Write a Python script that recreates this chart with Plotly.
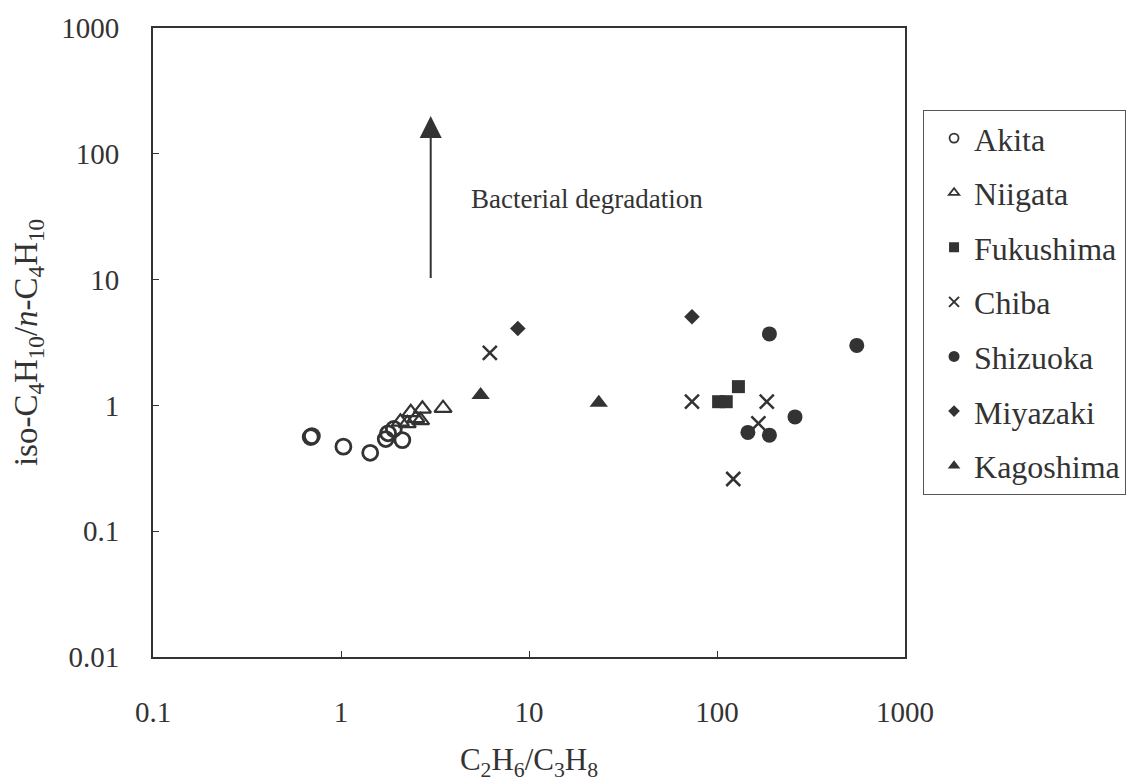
import math
import plotly.graph_objects as go

# ---- data ----
akita_x = [0.69, 0.70, 1.03, 1.43, 1.73, 1.78, 1.91, 2.12]
akita_y = [0.56, 0.57, 0.47, 0.42, 0.54, 0.60, 0.65, 0.53]

niigata_x = [2.07, 2.25, 2.35, 2.50, 2.65, 2.71, 3.49]
niigata_y = [0.74, 0.72, 0.88, 0.79, 0.76, 0.94, 0.95]

fukushima_x = [102, 112, 130]
fukushima_y = [1.07, 1.07, 1.41]

chiba_x = [6.19, 73.6, 122, 166, 184]
chiba_y = [2.61, 1.07, 0.26, 0.72, 1.07]

shizuoka_x = [146, 190, 190, 260, 554]
shizuoka_y = [0.61, 0.58, 3.70, 0.81, 3.0]

miyazaki_x = [8.72, 73.6]
miyazaki_y = [4.09, 5.06]

kagoshima_x = [5.53, 23.5]
kagoshima_y = [1.21, 1.05]

x_ticks = [0.1, 1, 10, 100, 1000]
x_tick_labels = ["0.1", "1", "10", "100", "1000"]
y_ticks = [0.01, 0.1, 1, 10, 100, 1000]
y_tick_labels = ["0.01", "0.1", "1", "10", "100", "1000"]

arrow_x = 3.0
arrow_from = 10
arrow_to = 200

INK = "#333333"
FONT = "Liberation Serif, Times New Roman, serif"

series = [
    ("Akita", akita_x, akita_y, "circle-open", 15, 2.8, 9, 1.8),
    ("Niigata", niigata_x, niigata_y, "triangle-up-open", 15, 2.2, 9, 1.8),
    ("Fukushima", fukushima_x, fukushima_y, "square", 13, 0, 10, 0),
    ("Chiba", chiba_x, chiba_y, "x-thin", 14, 2.5, 10, 2.0),
    ("Shizuoka", shizuoka_x, shizuoka_y, "circle", 15, 0, 11, 0),
    ("Miyazaki", miyazaki_x, miyazaki_y, "diamond", 12, 0, 9, 0),
    ("Kagoshima", kagoshima_x, kagoshima_y, "triangle-up", 16, 0, 11, 0),
]

fig = go.Figure()
for name, xs, ys, sym, size, lw, lsize, llw in series:
    fig.add_trace(go.Scatter(
        x=xs, y=ys, mode="markers", name=name, showlegend=False,
        marker=dict(symbol=sym, size=size, color=INK,
                    line=dict(color=INK, width=lw)),
    ))
for name, xs, ys, sym, size, lw, lsize, llw in series:
    fig.add_trace(go.Scatter(
        x=[None], y=[None], mode="markers", name=name, legendgroup=name,
        marker=dict(symbol=sym, size=lsize, color=INK,
                    line=dict(color=INK, width=llw)),
    ))

axis_common = dict(
    type="log", showline=True, mirror=True, linewidth=2, linecolor=INK,
    ticks="inside", ticklen=6, tickwidth=1, tickcolor=INK,
    showgrid=False, zeroline=False,
    tickfont=dict(family=FONT, size=29, color=INK),
)

fig.update_xaxes(
    range=[-1, 3], tickvals=x_ticks, ticktext=x_tick_labels,
    ticklabelstandoff=28,
    title=dict(text="C<sub>2</sub>H<sub>6</sub>/C<sub>3</sub>H<sub>8</sub>",
               font=dict(family=FONT, size=31, color=INK), standoff=22),
    **axis_common,
)
fig.update_yaxes(
    range=[-2, 3], tickvals=y_ticks, ticktext=y_tick_labels,
    ticklabelstandoff=26,
    title=dict(text="iso-C<sub>4</sub>H<sub>10</sub>/<i>n</i>-C<sub>4</sub>H<sub>10</sub>",
               font=dict(family=FONT, size=33, color=INK), standoff=14),
    **axis_common,
)

fig.add_annotation(
    x=math.log10(arrow_x), y=math.log10(arrow_to),
    ax=math.log10(arrow_x), ay=math.log10(arrow_from),
    xref="x", yref="y", axref="x", ayref="y",
    text="", showarrow=True, arrowhead=2, arrowsize=2.2, arrowwidth=2,
    arrowcolor=INK,
)
fig.add_annotation(
    x=math.log10(4.8), y=math.log10(44), xref="x", yref="y",
    text="Bacterial degradation", showarrow=False, xanchor="left",
    yanchor="middle", font=dict(family=FONT, size=27, color=INK),
)

fig.update_layout(
    width=1141, height=783,
    margin=dict(l=153, r=236, t=22, b=123),
    paper_bgcolor="white", plot_bgcolor="white",
    legend=dict(
        x=1.024, y=0.87, xanchor="left", yanchor="top",
        bordercolor="#555555", borderwidth=1, bgcolor="white",
        font=dict(family=FONT, size=32, color=INK),
        tracegroupgap=10, indentation=10,
    ),
)

fig.write_html("out.html")
